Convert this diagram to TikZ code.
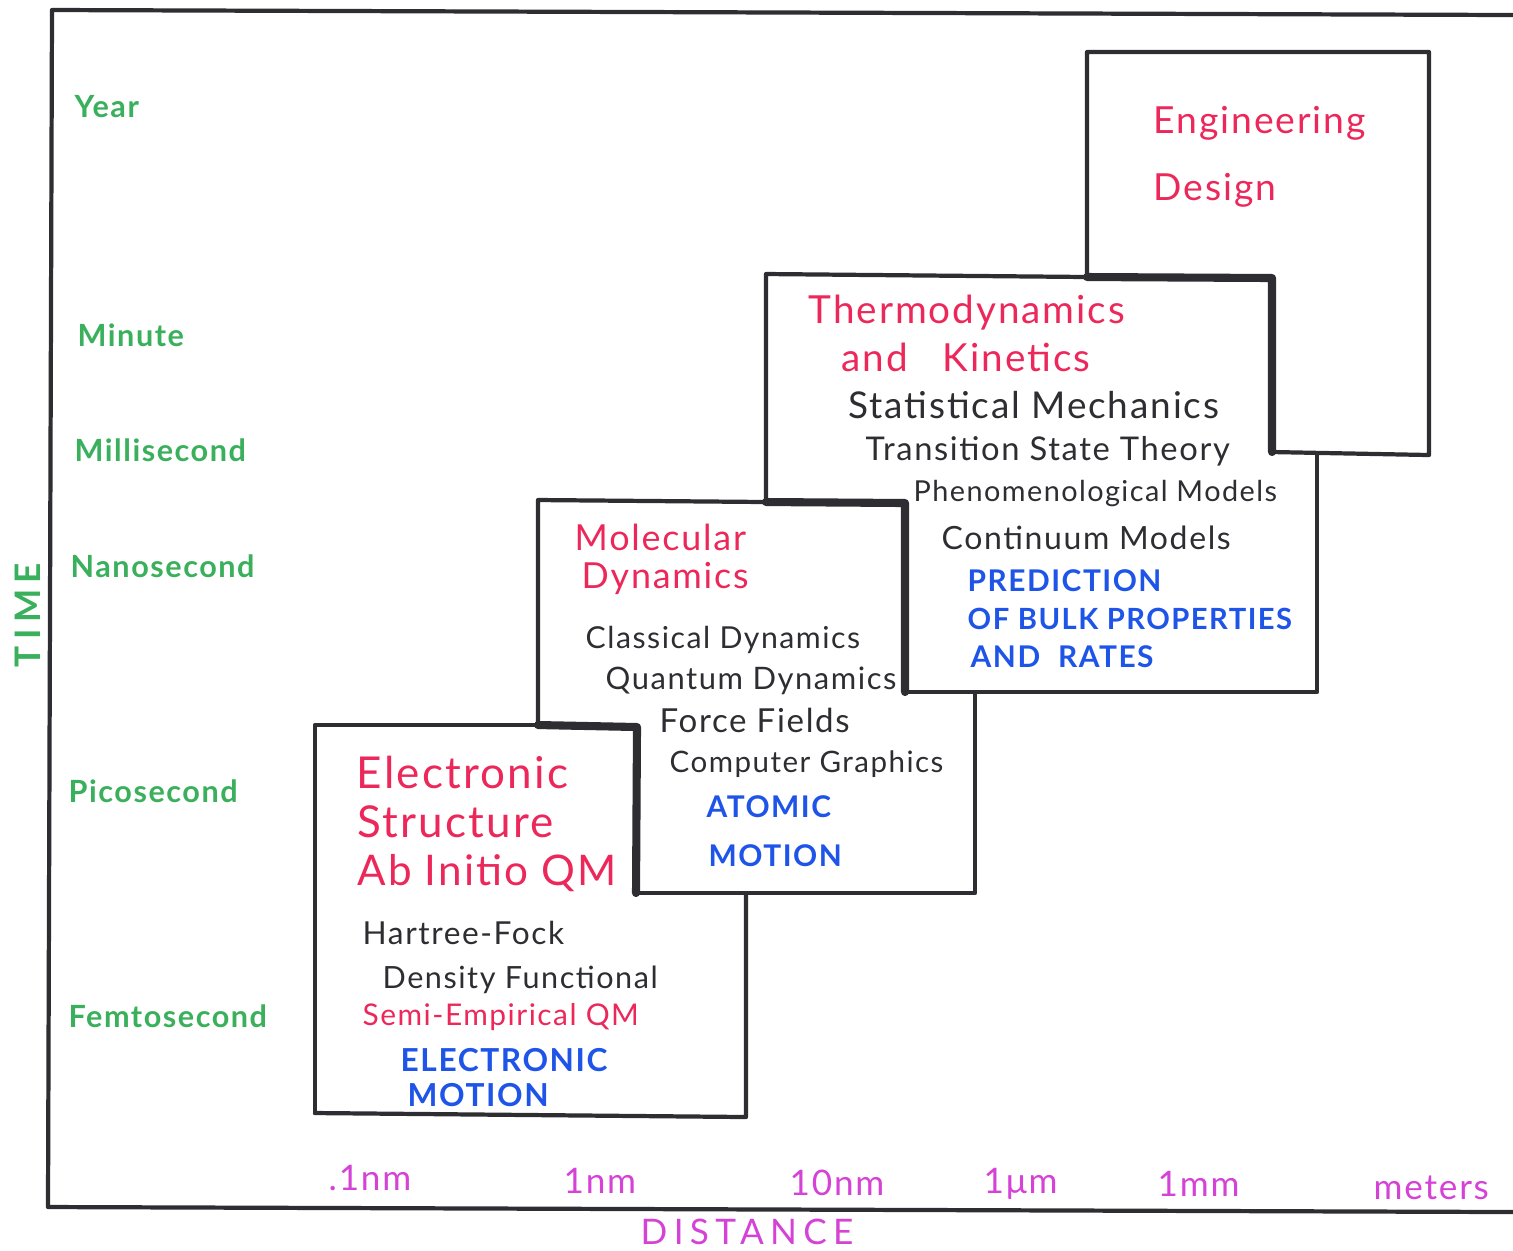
\documentclass[tikz,border=0pt]{standalone}
\usepackage{fontspec}
\usepackage{xcolor}
\definecolor{ink_grey}{RGB}{45,45,50}
\definecolor{time_green}{RGB}{58,176,92}
\definecolor{title_red}{RGB}{236,40,90}
\definecolor{motion_blue}{RGB}{30,84,232}
\definecolor{dist_magenta}{RGB}{212,66,214}
\newfontfamily\hand[LetterSpace=5]{Lato}
\newfontfamily\handwide[LetterSpace=18]{Lato}
\usepackage{tikz}
\usetikzlibrary{positioning}

\begin{document}
\begin{tikzpicture}
[
    x = 0.01cm, y = -0.01cm,
    frame/.style = {line width = 1.2pt, draw = ink_grey, line cap = round, line join = round},
    twice/.style = {frame, line width = 2.3pt},
    tag/.style = {anchor = west, inner sep = 0pt},
    timelabel/.style = {tag, text = time_green, font = \hand\bfseries\fontsize{8.7}{8.7}\selectfont},
    distlabel/.style = {tag, text = dist_magenta, font = \hand\fontsize{10}{10}\selectfont},
    boxtitle/.style = {tag, text = title_red, font = \hand\fontsize{11}{11}\selectfont},
    method/.style = {tag, text = ink_grey, font = \hand\fontsize{9.5}{9.5}\selectfont},
    motion/.style = {tag, text = motion_blue, font = \hand\bfseries\fontsize{8.5}{8.5}\selectfont}
]
\useasboundingbox (0,0) rectangle (1513,1250);

% axes
\draw[frame] (1513,15) -- (52,10) -- (48,1207) -- (1513,1212);

% the four boxes, each one stepping over the next
\draw[frame] (1087,277) -- (1087,52) -- (1429,52) -- (1429,455) -- (1272,452);
\draw[frame] (766,502) -- (766,274) -- (1087,277);
\draw[twice] (1087,277) -- (1272,278) -- (1272,452);
\draw[frame] (1317,455) -- (1317,692) -- (905,692);
\draw[frame] (538,725) -- (538,500) -- (766,502);
\draw[twice] (766,502) -- (905,503) -- (905,692);
\draw[frame] (975,692) -- (975,893) -- (636,893);
\draw[frame] (315,1113) -- (315,725) -- (538,725);
\draw[twice] (538,725) -- (637,727) -- (636,893);
\draw[frame] (746,893) -- (746,1117) -- (315,1113);

% time scale
\node[timelabel] (year)   at (74,107)  {Year};
\node[timelabel] (minute) at (77,335)  {Minute};
\node[timelabel] (msec)   at (74,450)  {Millisecond};
\node[timelabel] (nsec)   at (70,566)  {Nanosecond};
\node[timelabel] (psec)   at (68,791)  {Picosecond};
\node[timelabel] (fsec)   at (68,1016) {Femtosecond};
\node[timelabel, anchor = center, rotate = 90, font = \handwide\bfseries\fontsize{10}{10}\selectfont] (time) at (28,615) {TIME};

% distance scale
\node[distlabel] (d_tenth)  at (328,1178)  {.1nm};
\node[distlabel] (d_nm)     at (563,1181)  {1nm};
\node[distlabel] (d_tennm)  at (789,1183)  {10nm};
\node[distlabel] (d_micro)  at (983,1184)  {1μm};
\node[distlabel] (d_mm)     at (1157,1184) {1mm};
\node[distlabel] (d_meters) at (1373,1188) {meters};
\node[distlabel, font = \handwide\fontsize{10}{10}\selectfont] (distance) at (640,1232) {DISTANCE};

% electronic structure
\node[boxtitle, font = \hand\fontsize{12.5}{12.5}\selectfont] (es_a) at (356,772) {Electronic};
\node[boxtitle, font = \hand\fontsize{12.5}{12.5}\selectfont] (es_b) at (357,822) {Structure};
\node[boxtitle, font = \hand\fontsize{12}{12}\selectfont] (es_c) at (357,873) {Ab Initio QM};
\node[method, font = \hand\fontsize{9}{9}\selectfont] (hf)  at (362,933)  {Hartree-Fock};
\node[method, font = \hand\fontsize{8.7}{8.7}\selectfont] (dft) at (382,980)  {Density Functional};
\node[boxtitle, font = \hand\fontsize{8.5}{8.5}\selectfont] (semi) at (362,1017) {Semi-Empirical QM};
\node[motion, font = \hand\bfseries\fontsize{9}{9}\selectfont] (es_m1) at (400,1060) {ELECTRONIC};
\node[motion, font = \hand\bfseries\fontsize{9}{9}\selectfont] (es_m2) at (407,1095) {MOTION};

% molecular dynamics
\node[boxtitle, font = \hand\fontsize{10.2}{10.2}\selectfont] (md_a) at (574,537) {Molecular};
\node[boxtitle, font = \hand\fontsize{10.2}{10.2}\selectfont] (md_b) at (581,578) {Dynamics};
\node[method, font = \hand\fontsize{8.6}{8.6}\selectfont] (cd) at (585,640) {Classical Dynamics};
\node[method, font = \hand\fontsize{8.8}{8.8}\selectfont] (qd) at (605,681) {Quantum Dynamics};
\node[method, font = \hand\fontsize{9.4}{9.4}\selectfont] (ff) at (659,720) {Force Fields};
\node[method, font = \hand\fontsize{8.4}{8.4}\selectfont] (cg) at (669,764) {Computer Graphics};
\node[motion] (md_m1) at (706,807) {ATOMIC};
\node[motion] (md_m2) at (708,856) {MOTION};

% thermodynamics and kinetics
\node[boxtitle] (tk_a) at (808,313) {Thermodynamics};
\node[boxtitle] (tk_b) at (841,357) {and\hspace{0.9em}Kinetics};
\node[method, font = \hand\fontsize{10.5}{10.5}\selectfont] (sm)  at (848,405) {Statistical Mechanics};
\node[method, font = \hand\fontsize{9.3}{9.3}\selectfont] (tst) at (865,451) {Transition State Theory};
\node[method, font = \hand\fontsize{8.2}{8.2}\selectfont] (pm)  at (913,493) {Phenomenological Models};
\node[method, font = \hand\fontsize{9.1}{9.1}\selectfont] (cm)  at (941,538) {Continuum Models};
\node[motion] (tk_m1) at (967,581) {PREDICTION};
\node[motion, font = \hand\bfseries\fontsize{8.3}{8.3}\selectfont] (tk_m2) at (967,619) {OF BULK PROPERTIES};
\node[motion] (tk_m3) at (970,657) {AND\hspace{0.6em}RATES};

% engineering design
\node[boxtitle, font = \hand\fontsize{10.6}{10.6}\selectfont] (ed_a) at (1153,123) {Engineering};
\node[boxtitle, font = \hand\fontsize{10.6}{10.6}\selectfont] (ed_b) at (1153,190) {Design};
\end{tikzpicture}
\end{document}
